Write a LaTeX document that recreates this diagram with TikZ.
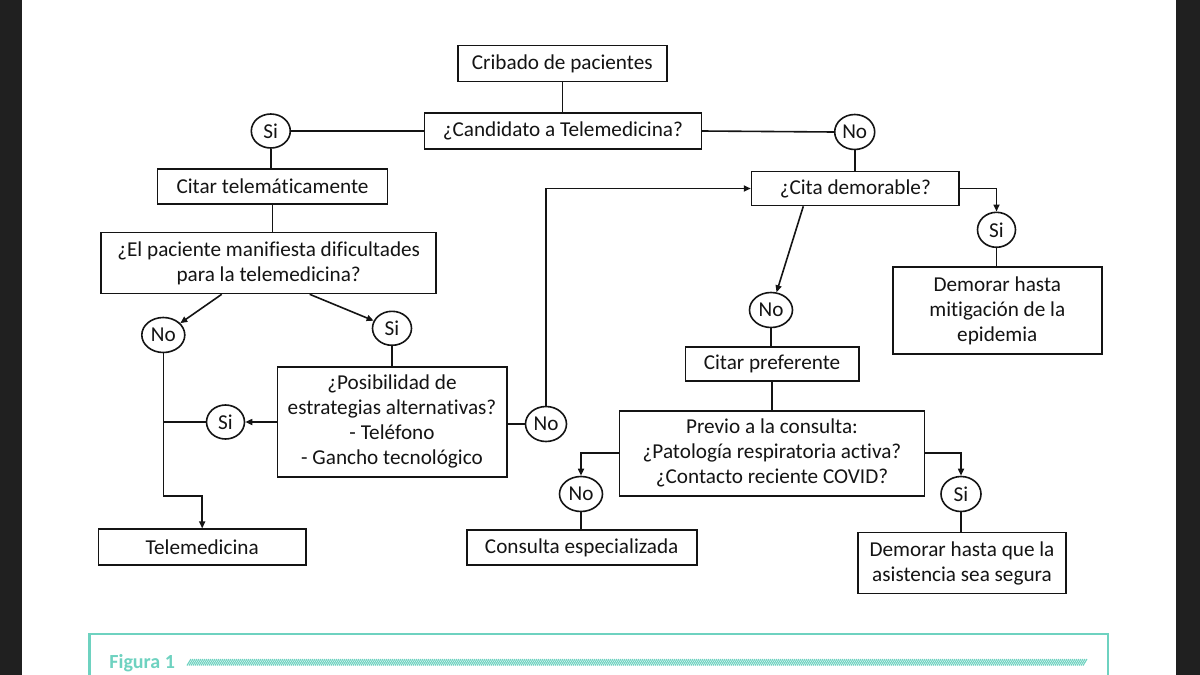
\documentclass[tikz,border=0pt]{standalone}
\usepackage{fontspec}
\setmainfont{Carlito}[Ligatures=NoCommon]
\usetikzlibrary{shapes.geometric,arrows.meta,calc}
\definecolor{tealc}{RGB}{110,210,192}
\definecolor{darkbg}{RGB}{32,32,32}
\definecolor{ink}{RGB}{20,20,20}
\begin{document}
\begin{tikzpicture}[x=0.5pt,y=-0.5pt,
  every node/.style={text=ink},
  bx/.style 2 args={draw=ink, line width=0.8pt, inner sep=0pt, align=center,
    font=\fontsize{10.6pt}{12.5pt}\selectfont,
    minimum width=#1*0.5pt, minimum height=#2*0.5pt},
  el/.style 2 args={draw=ink, ellipse, line width=0.8pt, inner sep=0pt,
    font=\fontsize{10.6pt}{12.5pt}\selectfont,
    minimum width=#1*0.5pt, minimum height=#2*0.5pt},
  ln/.style={draw=ink, line width=0.8pt},
  arr/.style={ln, -{Triangle[length=3.5pt,width=3pt]}}]
\useasboundingbox (0,0) rectangle (1200,675);
\clip (0,0) rectangle (1200,675);
\fill[white] (0,0) rectangle (1200,675);
\fill[darkbg] (0,0) rectangle (22,675);
\fill[darkbg] (1176,0) rectangle (1200,675);

% nodes
\node[bx={209}{36}] (crib) at (562.3,63.5) {Cribado de pacientes};
\node[bx={277}{36}] (cand) at (562.9,131) {¿Candidato a Telemedicina?};
\node[el={39}{34}] (si1) at (270.8,131) {Si};
\node[el={40}{35}] (no1) at (854.7,132) {No};
\node[bx={230}{35}] (citt) at (272.5,186.5) {Citar telemáticamente};
\node[bx={335}{61}] (pac) at (268.7,263) {¿El paciente manifiesta dificultades\\para la telemedicina?};
\node[el={43}{35}] (no2) at (163.3,335) {No};
\node[el={39}{34}] (si2) at (392,328.3) {Si};
\node[bx={229.4}{110}] (pos) at (392,421.7) {¿Posibilidad de\\estrategias alternativas?\\- Teléfono\\- Gancho tecnológico};
\node[el={38}{34}] (si3) at (225.5,422) {Si};
\node[el={41}{35}] (no3) at (546,424) {No};
\node[bx={207.7}{36}] (tele) at (202.2,547.2) {Telemedicina};
\node[bx={207.5}{34}] (cita) at (855.3,188.5) {¿Cita demorable?};
\node[el={38}{35}] (si4) at (996.5,229.8) {Si};
\node[bx={209}{87}] (dem1) at (997.3,310.6) {Demorar hasta\\mitigación de la\\epidemia};
\node[el={43}{35}] (no4) at (771,310) {No};
\node[bx={173.4}{34}] (cpref) at (772,363.7) {Citar preferente};
\node[bx={305}{85}] (prev) at (772,453.2) {Previo a la consulta:\\¿Patología respiratoria activa?\\¿Contacto reciente COVID?};
\node[el={43}{35}] (no5) at (581,494) {No};
\node[el={40}{35}] (si5) at (961,494) {Si};
\node[bx={230}{35}] (cons) at (581.7,547.5) {Consulta especializada};
\node[bx={208}{61}] (dem2) at (962,563) {Demorar hasta que la\\asistencia sea segura};

\coordinate (bendA) at (163.3,496);

% connectors
\draw[ln] (crib.south) -- (crib.south |- cand.north);
\draw[ln] (cand.west) -- (si1.east);
\draw[ln] (cand.east) -- (no1.west);
\draw[ln] (si1.south) -- (si1.south |- citt.north);
\draw[ln] (citt.south) -- (citt.south |- pac.north);
\draw[arr] ($(pac.south)+(-47,0)$) -- (no2);
\draw[arr] ($(pac.south)+(41,0)$) -- (si2);
\draw[ln] (si2.south) -- (si2.south |- pos.north);
\draw[arr] (pos.west |- si3.east) -- (si3.east);
\draw[ln] (si3.west) -- (si3.west -| no2.south);
\draw[arr] (no2.south) -- (bendA) -| (tele.north);
\draw[ln] (pos.east |- no3.west) -- (no3.west);
\draw[arr] (no3.north) |- (cita.west);
\draw[ln] (no1.south) -- (no1.south |- cita.north);
\draw[arr] (cita.east) -| (si4.north);
\draw[ln] (si4.south) -- (si4.south |- dem1.north);
\draw[arr] ($(cita.south)+(-52,0)$) -- (no4);
\draw[ln] (no4.south) -- (no4.south |- cpref.north);
\draw[ln] (cpref.south) -- (cpref.south |- prev.north);
\draw[arr] (prev.west) -| (no5.north);
\draw[arr] (prev.east) -| (si5.north);
\draw[ln] (no5.south) -- (no5.south |- cons.north);
\draw[ln] (si5.south) -- (si5.south |- dem2.north);

% caption
\draw[tealc, line width=1.1pt] (89.5,690) -- (89.5,634) -- (1108.3,634) -- (1108.3,690);
\node[anchor=west, inner sep=0pt, text=tealc, font=\fontsize{10pt}{11pt}\selectfont\bfseries] (fig) at (109,663.5) {Figura 1};
\foreach \i in {0,...,448} {
  \draw[tealc, line width=0.55pt] (187+2*\i,665.5) -- ++(4,-6.5);
}
\end{tikzpicture}
\end{document}
